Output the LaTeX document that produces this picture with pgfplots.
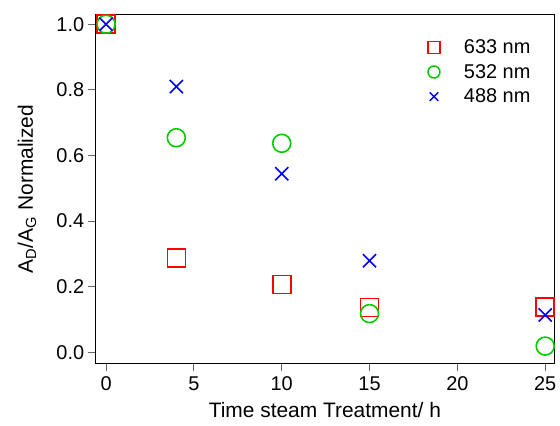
\documentclass[border=0pt]{standalone}
\usepackage{fontspec}
\setmainfont{Liberation Sans}
\usepackage{pgfplots}
\pgfplotsset{compat=1.18}
\definecolor{mred}{RGB}{255,0,0}
\definecolor{mgreen}{RGB}{0,204,0}
\definecolor{mblue}{RGB}{0,0,255}
\begin{document}
\begin{tikzpicture}[x=1bp,y=1bp]
\useasboundingbox (0,0) rectangle (560,425);
\begin{axis}[
  at={(95.7bp,61.7bp)}, anchor=south west,
  scale only axis, width=458.3bp, height=348.6bp,
  xmin=-0.59, xmax=25.5, ymin=-0.0335, ymax=1.029,
  xtick={0,5,...,25}, ytick={0,0.2,...,1.0},
  yticklabel style={/pgf/number format/.cd,fixed,fixed zerofill,precision=1},
  /pgf/number format/assume math mode=true,
  tick align=outside, major tick length=8bp,
  tick style={line width=1bp, color=black!60},
  axis line style={line width=1bp},
  xtick pos=bottom, ytick pos=left,
  minor tick num=0,
  ticklabel style={font=\fontsize{20}{24}\selectfont},
  xticklabel style={yshift=-2bp},
  xlabel={Time steam Treatment/ h},
  ylabel={A\textsubscript{D}/A\textsubscript{G} Normalized},
  label style={font=\fontsize{21}{25}\selectfont},
  xlabel style={at={(axis description cs:0.5,0)}, anchor=north, yshift=-36bp},
  ylabel style={at={(axis description cs:-0.150,0.5)}, anchor=center},
  legend style={draw=none, fill=none, inner sep=0pt, outer sep=0pt,
    at={(axis description cs:0.725,0.934)}, anchor=north west,
    font=\fontsize{20}{24}\selectfont, row sep=5.2bp, cells={anchor=west}},
  legend image post style={mark size=6bp, line width=1.5bp},
  legend image code/.code={\path[draw=none,fill=none] (0bp,-6bp) rectangle (34bp,6bp); \draw[#1] plot coordinates {(6bp,0bp)};},
]
\addplot[only marks, mark=square, mark size=9bp, mred, line width=1.6bp]
  coordinates {(0,1.0) (4,0.287) (10,0.207) (15,0.137) (25,0.139)};
\addlegendentry{633 nm}
\addplot[only marks, mark=o, mark size=9bp, mgreen, line width=1.6bp]
  coordinates {(0,1.0) (4,0.654) (10,0.637) (15,0.118) (25,0.019)};
\addlegendentry{532 nm}
\addplot[only marks, mark=x, mark size=9.3bp, mblue, line width=1.6bp]
  coordinates {(0,1.0) (4,0.81) (10,0.544) (15,0.279) (25,0.114)};
\addlegendentry{488 nm}
\end{axis}
\end{tikzpicture}
\end{document}
